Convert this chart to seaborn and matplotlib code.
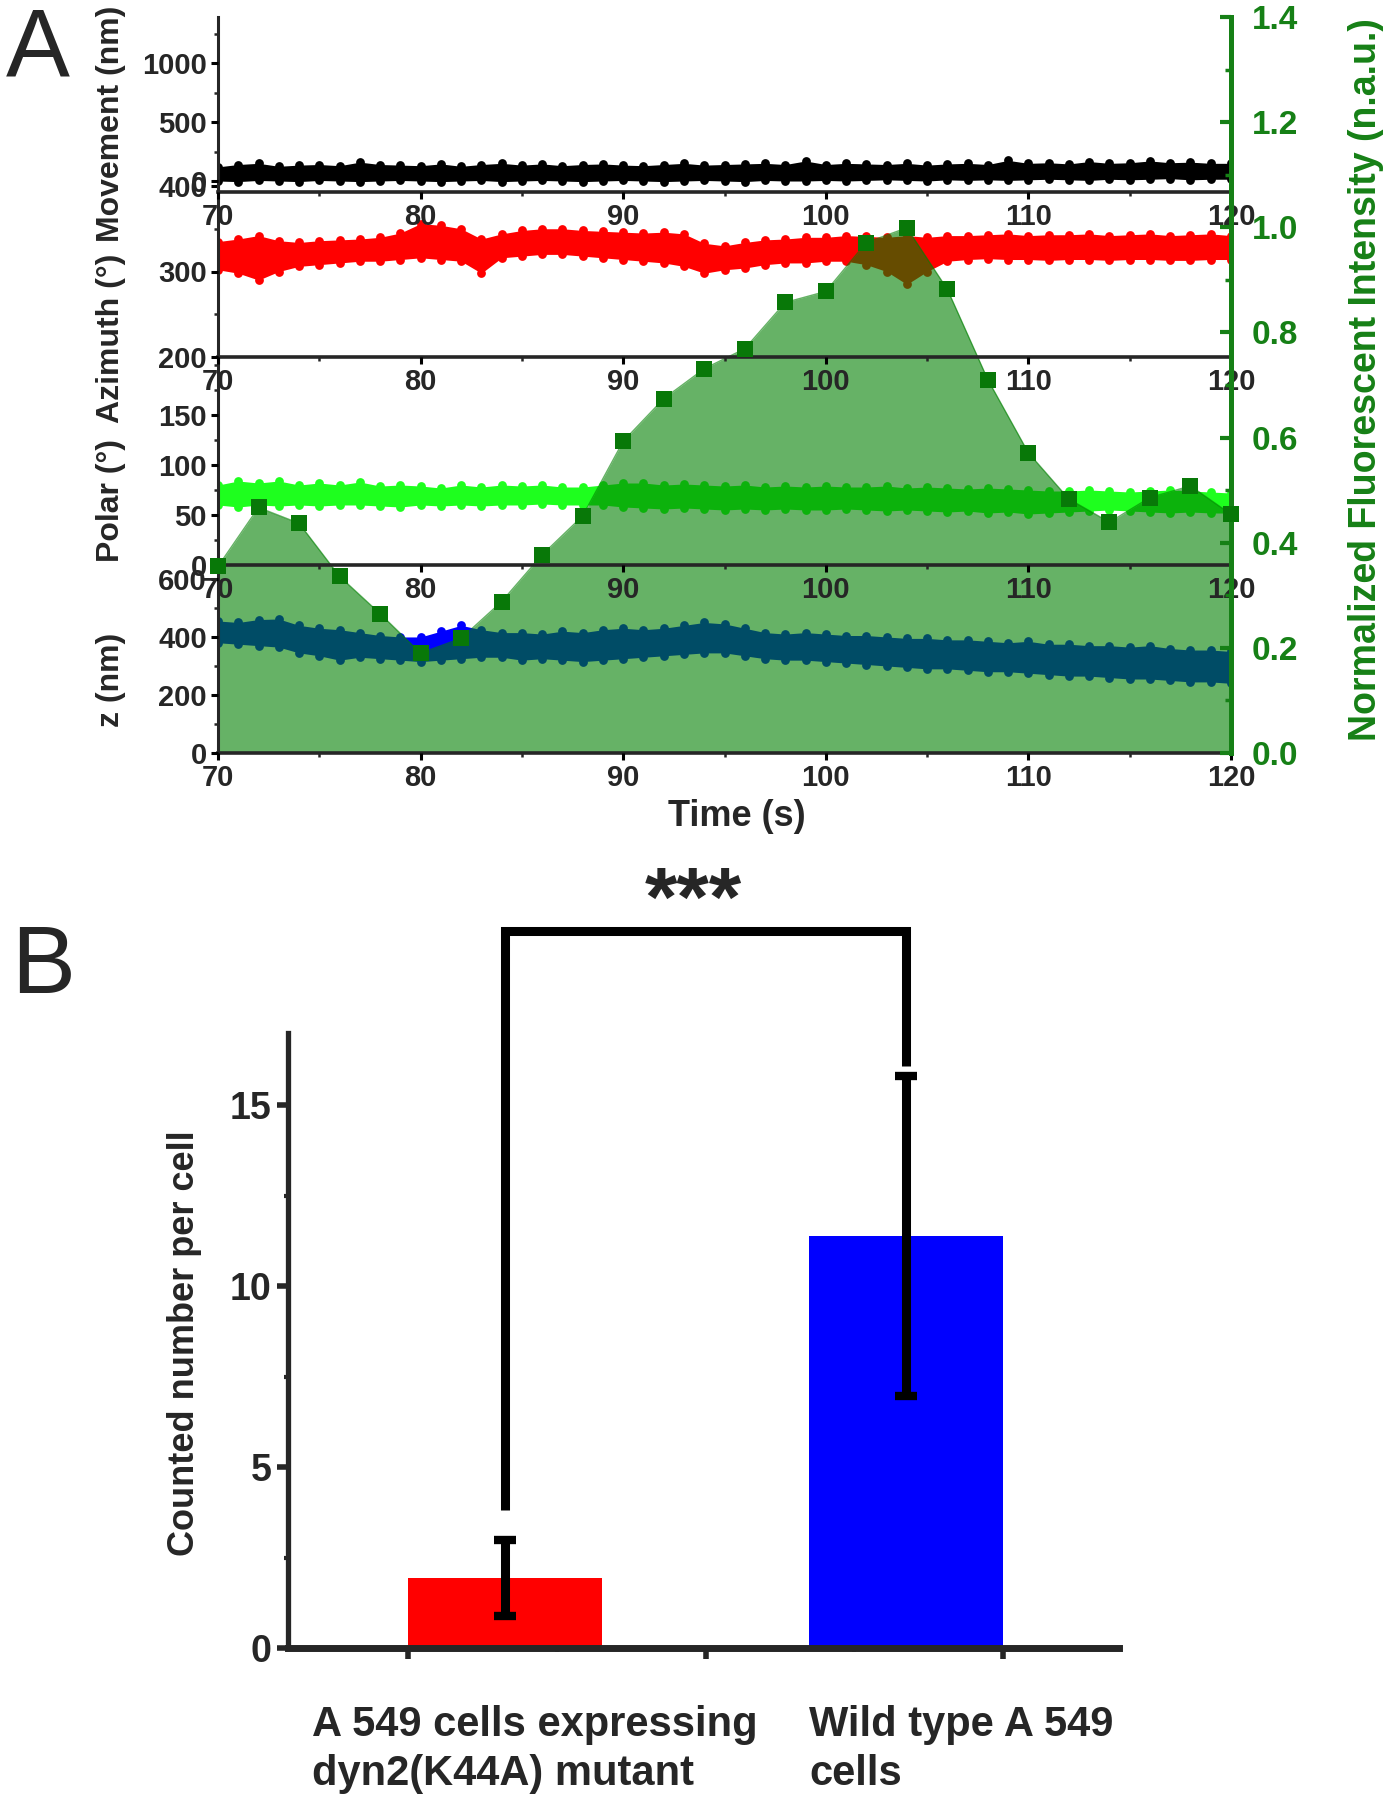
import matplotlib
matplotlib.use("Agg")
import pandas as pd
import matplotlib.pyplot as plt
import seaborn as sns
from matplotlib.ticker import MultipleLocator, FixedLocator, FormatStrFormatter
from matplotlib.transforms import blended_transform_factory

sns.set_style("ticks")
FONT = ['Liberation Sans', 'DejaVu Sans']
plt.rcParams['font.family'] = FONT
plt.rcParams['font.weight'] = 'bold'

# ---- panel A data (1 s steps) ----
time_s = list(range(70, 121))

move_lo = [0, -5, 5, 0, -5, 5, 0, -5, 0, 5, 0, -5, 0, 5, -5, 0, 5, 0, -5, 0,
           5, 0, -5, 0, 5, 0, -5, 5, 0, 0, 5, 0, 5, 10, 5, 0, 10, 5, 10, 5,
           10, 15, 10, 5, 15, 10, 15, 20, 10, 15, 15]
move_hi = [120, 140, 150, 125, 135, 140, 130, 160, 140, 135, 130, 145, 125, 140, 150, 135, 145, 130, 140, 145,
           135, 130, 140, 150, 135, 140, 145, 150, 140, 170, 140, 150, 145, 140, 150, 135, 145, 150, 140, 175,
           150, 155, 145, 165, 150, 155, 170, 155, 160, 150, 150]

azim_lo = [302, 298, 290, 300, 306, 308, 310, 312, 312, 314, 316, 314, 312, 298, 316, 318, 320, 320, 318, 316,
           314, 312, 310, 306, 298, 302, 304, 308, 310, 310, 312, 312, 308, 300, 285, 300, 312, 314, 315, 314,
           314, 313, 314, 314, 313, 314, 314, 313, 313, 314, 314]
azim_hi = [335, 338, 342, 336, 334, 336, 337, 338, 340, 345, 356, 354, 350, 338, 344, 348, 350, 350, 348, 347,
           346, 345, 346, 344, 333, 330, 334, 337, 338, 340, 340, 342, 341, 340, 342, 340, 342, 342, 343, 344,
           342, 343, 343, 344, 342, 343, 344, 342, 343, 344, 342]

polar_lo = [60, 58, 60, 59, 60, 59, 60, 60, 59, 58, 60, 59, 60, 59, 60, 60, 61, 60, 60, 60,
            58, 57, 56, 57, 56, 55, 56, 55, 56, 55, 55, 56, 55, 54, 55, 54, 53, 54, 52, 53,
            51, 52, 53, 54, 55, 54, 53, 52, 53, 52, 52]
polar_hi = [80, 84, 82, 84, 80, 82, 80, 83, 79, 80, 79, 77, 80, 78, 80, 79, 80, 78, 78, 80,
            82, 82, 80, 81, 80, 79, 80, 78, 79, 78, 79, 78, 78, 79, 77, 78, 77, 76, 77, 76,
            75, 74, 74, 75, 74, 73, 74, 75, 74, 73, 72]

z_lo = [380, 375, 370, 365, 345, 335, 320, 330, 325, 320, 315, 320, 325, 330, 330, 320, 325, 320, 315, 320,
        325, 330, 335, 340, 345, 345, 335, 325, 320, 320, 315, 310, 305, 300, 295, 290, 290, 285, 280, 280,
        275, 270, 265, 265, 260, 255, 255, 250, 245, 245, 240]
z_hi = [455, 450, 460, 462, 440, 430, 425, 415, 405, 400, 400, 420, 440, 425, 415, 415, 410, 420, 415, 425,
        430, 425, 430, 440, 450, 445, 430, 415, 410, 415, 410, 405, 405, 400, 395, 395, 390, 390, 385, 380,
        385, 375, 375, 370, 370, 365, 370, 360, 355, 355, 350]

flu_t = list(range(70, 121, 2))
flu_v = [0.355, 0.467, 0.437, 0.336, 0.265, 0.190, 0.218, 0.288, 0.377, 0.451, 0.593, 0.674, 0.731,
         0.769, 0.857, 0.878, 0.971, 0.999, 0.882, 0.710, 0.571, 0.483, 0.439, 0.486, 0.508, 0.454]

# ---- panel B data ----
groups = ["A 549 cells expressing\ndyn2(K44A) mutant", "Wild type A 549\ncells"]
counts = [1.93, 11.38]
count_sd = [1.05, 4.42]

GREEN = '#168016'
SQ_GREEN = '#087808'

fig = plt.figure(figsize=(13.89, 18), dpi=100)
FW, FH = 1389, 1800
L, R = 218, 1231


def rect(top, bot, left=L, right=R):
    return [left / FW, 1 - bot / FH, (right - left) / FW, (bot - top) / FH]


# overlay axes for the fluorescence trace (right axis)
ov = fig.add_axes(rect(17, 753), zorder=10)
ov.set_facecolor('none')
ov.set_xlim(70, 120)
ov.set_ylim(0, 1.4)

panels = [
    # lo, hi, top px, bottom px, ylim, y ticks, minor step, colour, zorder
    (z_lo, z_hi, 565, 753, (0, 648), [0, 200, 400, 600], 100, '#0000ff', 1),
    (polar_lo, polar_hi, 357, 565, (0, 208), [0, 50, 100, 150], 25, '#1eff1e', 2),
    (azim_lo, azim_hi, 186, 357, (200, 400), [200, 300, 400], 50, '#ff0000', 3),
    (move_lo, move_hi, 17, 192, (-93, 1390), [0, 500, 1000], 250, '#000000', 4),
]

for lo, hi, top, bot, ylim, yticks, minor, col, zo in panels:
    ax = fig.add_axes(rect(top, bot), zorder=zo)
    ax.set_facecolor('none')
    ax.fill_between(time_s, lo, hi, color=col, lw=0, zorder=1)
    sns.scatterplot(x=time_s + time_s, y=lo + hi, color=col, s=40, linewidth=0,
                    ax=ax, zorder=1)
    # fluorescence area in the right-axis coordinates, clipped to this panel
    tr = ov.transData
    ax.fill_between(flu_t, 0, flu_v, color='#008000', alpha=0.6, lw=0,
                    transform=tr, zorder=2)
    ax.plot(flu_t, flu_v, color='#008000', alpha=0.6, lw=1, transform=tr, zorder=2)
    ax.set_xlim(70, 120)
    ax.set_ylim(*ylim)
    ax.xaxis.set_major_locator(MultipleLocator(10))
    ax.xaxis.set_minor_locator(MultipleLocator(5))
    ax.yaxis.set_major_locator(FixedLocator(yticks))
    ax.yaxis.set_minor_locator(MultipleLocator(minor))
    ax.tick_params(which='major', direction='out', length=5, width=2.2,
                   labelsize=21, pad=3, color='black')
    ax.tick_params(which='minor', direction='out', length=3, width=1.8)
    ax.spines['top'].set_visible(False)
    ax.spines['right'].set_visible(False)
    ax.spines['left'].set_linewidth(2.2)
    ax.spines['bottom'].set_linewidth(2.6)
    ax.set_axisbelow(False)
    ax.set_xlabel('')
    ax.set_ylabel('')

for s in ['left', 'top', 'bottom']:
    ov.spines[s].set_visible(False)
ov.spines['right'].set_color(GREEN)
ov.spines['right'].set_linewidth(3.6)
ov.xaxis.set_visible(False)
ov.yaxis.tick_right()
ov.yaxis.set_major_locator(MultipleLocator(0.2))
ov.yaxis.set_minor_locator(MultipleLocator(0.1))
ov.yaxis.set_major_formatter(FormatStrFormatter('%.1f'))
ov.tick_params(axis='y', which='major', direction='in', length=8, width=3,
               colors=GREEN, labelsize=24, pad=15)
ov.tick_params(axis='y', which='minor', direction='in', length=4, width=2.5,
               colors=GREEN)
sns.scatterplot(x=flu_t, y=flu_v, marker='s', s=130, color=SQ_GREEN, linewidth=0,
                ax=ov, clip_on=False, zorder=5)
ov.set_ylabel('')

for txt, ypx in [('Movement (nm)', 124), ('Azimuth (°)', 338),
                 ('Polar (°)', 500), ('z (nm)', 680)]:
    fig.text(111 / FW, 1 - ypx / FH, txt, rotation=90, ha='center', va='center',
             fontsize=23, fontweight='bold')

fig.text(1366 / FW, 1 - 380 / FH, 'Normalized Fluorescent Intensity (n.a.u.)',
         rotation=90, ha='center', va='center', fontsize=27, fontweight='bold',
         color=GREEN)
fig.text(737 / FW, 1 - 816 / FH, 'Time (s)', ha='center', va='center',
         fontsize=26, fontweight='bold')

fig.text(6 / FW, 1 - 75 / FH, 'A', fontsize=69, fontweight='normal',
         va='baseline', ha='left')
fig.text(11 / FW, 1 - 993 / FH, 'B', fontsize=69, fontweight='normal',
         va='baseline', ha='left')

# ---- panel B ----
axb = fig.add_axes(rect(1033, 1648, 288, 1119))
bar_df = pd.DataFrame({'group': groups, 'count': counts})
sns.barplot(data=bar_df, x='group', y='count', hue='group',
            palette=['#ff0000', '#0000ff'], width=0.484, errorbar=None,
            saturation=1, legend=False, linewidth=0, ax=axb)
axb.errorbar(x=[0, 1], y=counts, yerr=count_sd, fmt='none', ecolor='black',
             elinewidth=6.5, capsize=8, capthick=6, zorder=5)
axb.set_xlim(-0.541, 1.531)
axb.set_ylim(0, 17)
axb.set_xticks([-0.242, 0.5, 1.242])
axb.set_xticks([0.129, 0.871], minor=True)
axb.set_xticklabels(['', '', ''])
axb.yaxis.set_major_locator(MultipleLocator(5))
axb.yaxis.set_minor_locator(MultipleLocator(2.5))
axb.tick_params(which='major', direction='out', length=8, width=4, labelsize=27, pad=4)
axb.tick_params(which='minor', direction='out', length=3, width=3)
axb.spines['top'].set_visible(False)
axb.spines['right'].set_visible(False)
axb.spines['left'].set_linewidth(3.8)
axb.spines['bottom'].set_linewidth(5)
axb.set_xlabel('')
axb.set_ylabel('')

lab_tr = blended_transform_factory(axb.transData, axb.transAxes)
for xpos, g in zip([-0.481, 0.758], groups):
    axb.text(xpos, -0.093, g, transform=lab_tr, ha='left', va='top',
             fontsize=30, fontweight='bold', linespacing=1.3)

# significance bracket
top_y = 19.83
left_end = counts[0] + count_sd[0] + 0.83
right_end = counts[1] + count_sd[1] + 0.3
axb.plot([0, 0, 1, 1], [left_end, top_y, top_y, right_end], color='black', lw=6.5,
         clip_on=False, solid_joinstyle='miter', solid_capstyle='butt')
axb.text(0.47, top_y + 0.75, '***', ha='center', va='center', fontsize=60,
         fontweight='bold', clip_on=False)

fig.text(184 / FW, 1 - 1343 / FH, 'Counted number per cell', rotation=90,
         ha='center', va='center', fontsize=26, fontweight='bold')

fig.savefig('out.png', dpi=100)
